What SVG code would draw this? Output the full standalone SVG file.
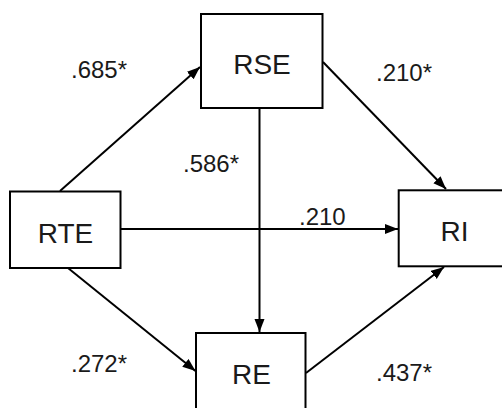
<svg xmlns="http://www.w3.org/2000/svg" width="502" height="408" viewBox="0 0 502 408">
<style>
.box{fill:#fff;stroke:#000;stroke-width:2}
.edge{stroke:#000;stroke-width:2;fill:none;marker-end:url(#arr)}
.lbl{font-family:"Liberation Sans",Arial,sans-serif;font-size:28px;fill:#1a1a1a;text-anchor:middle}
.coef{font-family:"Liberation Sans",Arial,sans-serif;font-size:24px;fill:#1a1a1a}
</style>
<defs>
<marker id="arr" markerUnits="userSpaceOnUse" markerWidth="14" markerHeight="11" refX="13" refY="5" orient="auto">
<path d="M0,0 L13,5 L0,10 z" fill="#000"/>
</marker>
</defs>
<rect width="502" height="408" fill="#fff"/>
<g id="connectors">
<line class="edge" x1="60" y1="191" x2="200" y2="67"/>
<line class="edge" x1="323" y1="62" x2="446" y2="189"/>
<line class="edge" x1="259.5" y1="108" x2="259.5" y2="332"/>
<line class="edge" x1="120" y1="229" x2="398" y2="229"/>
<line class="edge" x1="68" y1="268" x2="195.5" y2="371"/>
<line class="edge" x1="306" y1="373" x2="444" y2="267"/>
</g>
<g id="RSE"><rect class="box" x="201" y="14" width="121.5" height="94"/><text class="lbl" x="262" y="74">RSE</text></g>
<g id="RTE"><rect class="box" x="10" y="191.5" width="110.5" height="76.5"/><text class="lbl" x="65.5" y="243">RTE</text></g>
<g id="RE"><rect class="box" x="196" y="333" width="109.5" height="90"/><text class="lbl" x="251.5" y="384">RE</text></g>
<g id="RI"><rect class="box" x="398.7" y="190.3" width="120" height="76"/><text class="lbl" x="454.5" y="241">RI</text></g>
<g id="labels">
<text class="coef" x="71" y="78">.685*</text>
<text class="coef" x="183" y="172">.586*</text>
<text class="coef" x="376" y="81">.210*</text>
<text class="coef" x="71" y="372">.272*</text>
<text class="coef" x="376" y="381">.437*</text>
<text class="coef" x="299" y="225">.210</text>
</g>
</svg>
